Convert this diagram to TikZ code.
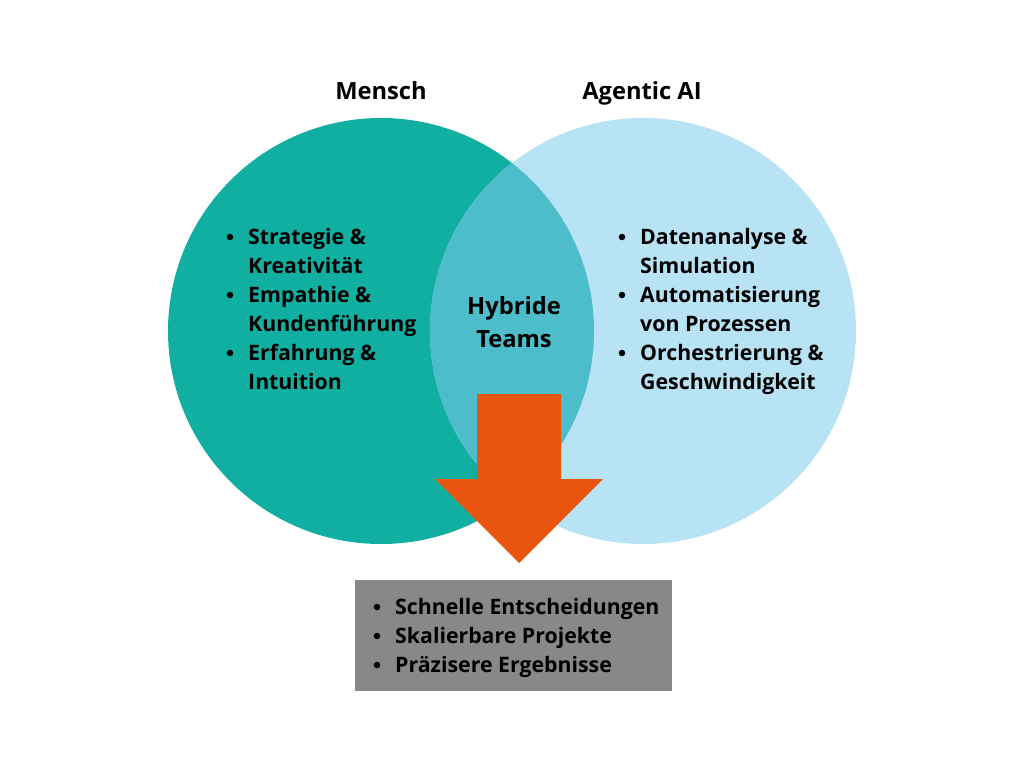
\documentclass[tikz,border=0pt]{standalone}
\usepackage{fontspec}
\setmainfont{Open Sans}
\begin{document}
\begin{tikzpicture}[x=1pt,y=-1pt,
 lbl/.style={font=\fontsize{21.3}{29}\selectfont\bfseries,text=black,anchor=base west,inner sep=0pt},
 head/.style={font=\fontsize{23.7}{30}\selectfont\bfseries,text=black,inner sep=0pt,anchor=base},
 dotm/.style={circle,fill=black,inner sep=0pt,minimum size=6.5pt}]
\useasboundingbox (0,0) rectangle (1024,768);
\fill[white] (0,0) rectangle (1024,768);
\definecolor{teal1}{HTML}{10AFA2}
\definecolor{sky1}{HTML}{B8E3F5}
\definecolor{mid1}{HTML}{4DBDCB}
\definecolor{org1}{HTML}{E9540F}
\definecolor{gray1}{HTML}{888886}
\fill[teal1] (381,331) ellipse (213 and 213);
\fill[sky1] (643,331) ellipse (213 and 213);
\begin{scope}
\clip (381,331) circle (213);
\fill[mid1] (643,331) circle (213);
\end{scope}
\node[head] (m) at (381,99) {Mensch};
\node[head] (a) at (642,99) {Agentic AI};
\node[head] (h1) at (514,314) {Hybride};
\node[head] (h2) at (514,347) {Teams};
\foreach \n/\t/\y in {a1/Strategie \&/244,a2/Kreativität/273,a3/Empathie \&/302,a4/Kundenführung/331,a5/Erfahrung \&/360,a6/Intuition/389}{\node[lbl] (\n) at (248,\y) {\t};}
\foreach \n/\y in {d1/237,d3/295,d5/353}{\node[dotm] (\n) at (230,\y) {};}
\foreach \n/\t/\y in {b1/Datenanalyse \&/244,b2/Simulation/273,b3/Automatisierung/302,b4/von Prozessen/331,b5/Orchestrierung \&/360,b6/Geschwindigkeit/389}{\node[lbl] (\n) at (640,\y) {\t};}
\foreach \n/\y in {e1/237,e3/295,e5/353}{\node[dotm] (\n) at (622,\y) {};}
\fill[org1] (477,394) -- (561,394) -- (561,479) -- (603,479) -- (519,563) -- (435,479) -- (477,479) -- cycle;
\fill[gray1] (355,580) rectangle (672,691);
\foreach \n/\t/\yb/\yd in {c1/Schnelle Entscheidungen/614/607,c2/Skalierbare Projekte/643/636,c3/Präzisere Ergebnisse/672/665}{\node[lbl] (\n) at (395,\yb) {\t}; \node[dotm] (p\n) at (377,\yd) {};}
\end{tikzpicture}
\end{document}
